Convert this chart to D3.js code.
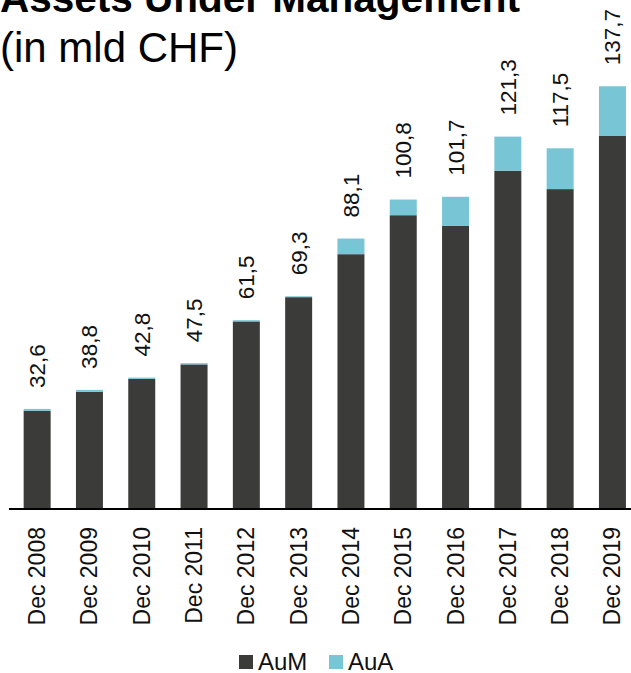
<!DOCTYPE html>
<html>
<head>
<meta charset="utf-8">
<script src="https://cdn.jsdelivr.net/npm/d3@7/dist/d3.min.js"></script>
<style>
  html, body { margin: 0; padding: 0; background: #fff; }
  svg { display: block; font-family: "Liberation Sans", Arial, sans-serif; }
</style>
</head>
<body>
<div id="chart"></div>
<script>
const categories = ["Dec 2008","Dec 2009","Dec 2010","Dec 2011","Dec 2012","Dec 2013","Dec 2014","Dec 2015","Dec 2016","Dec 2017","Dec 2018","Dec 2019"];
const totals = [32.6, 38.8, 42.8, 47.5, 61.5, 69.3, 88.1, 100.8, 101.7, 121.3, 117.5, 137.7];
const totalLabels = ["32,6","38,8","42,8","47,5","61,5","69,3","88,1","100,8","101,7","121,3","117,5","137,7"];
const aua = [0.6, 0.6, 0.4, 0.4, 0.4, 0.3, 5.1, 5.1, 9.5, 11.1, 13.3, 16.2];
const aum = totals.map((t, i) => +(t - aua[i]).toFixed(1));
const seriesNames = ["AuM", "AuA"];
const colors = ["#3b3c39", "#78c5d5"];

const W = 631, H = 673;
const svg = d3.select("#chart").append("svg").attr("width", W).attr("height", H);

const baseY = 509;
const x = d3.scaleBand().domain(categories).range([11, 638.6]).paddingInner(0.484).paddingOuter(0.242);
const y = d3.scaleLinear().domain([0, 140]).range([baseY, baseY - 140 * 3.07]);

const rows = categories.map((c, i) => ({ cat: c, AuM: aum[i], AuA: aua[i] }));
const stack = d3.stack().keys(seriesNames)(rows);

svg.append("g").selectAll("g").data(stack).join("g")
  .attr("fill", (d, i) => colors[i])
  .selectAll("rect").data(d => d).join("rect")
  .attr("x", d => x(d.data.cat))
  .attr("width", x.bandwidth())
  .attr("y", d => y(d[1]))
  .attr("height", d => y(d[0]) - y(d[1]));

// value labels
svg.append("g").selectAll("text").data(categories).join("text")
  .attr("transform", (c, i) => `translate(${x(c) + x.bandwidth() / 2 + 8},${y(totals[i]) - 21}) rotate(-90)`)
  .attr("text-anchor", "start")
  .attr("font-size", 22.5)
  .attr("fill", "#111")
  .text((c, i) => totalLabels[i]);

// x axis
const axis = svg.append("g").attr("transform", `translate(0,${baseY})`)
  .call(d3.axisBottom(x).tickSize(0).tickPadding(0));
axis.select(".domain").remove();
axis.selectAll("text")
  .attr("font-size", 23)
  .attr("font-family", "Liberation Sans, Arial, sans-serif")
  .attr("fill", "#111")
  .attr("text-anchor", "end")
  .attr("dy", null)
  .attr("y", 0)
  .attr("x", 0)
  .attr("transform", "translate(8,18) rotate(-90)");
svg.append("line").attr("x1", 9).attr("x2", W).attr("y1", baseY).attr("y2", baseY)
  .attr("stroke", "#000").attr("stroke-width", 2);

// titles
svg.append("text").attr("x", 0).attr("y", 12).attr("font-size", 40.5).attr("font-weight", "bold")
  .attr("fill", "#000").text("Assets Under Management");
svg.append("text").attr("x", 0).attr("y", 62).attr("font-size", 42)
  .attr("fill", "#000").text("(in mld CHF)");

// legend
const legendX = [239, 329];
const leg = svg.append("g").selectAll("g").data(seriesNames).join("g")
  .attr("transform", (d, i) => `translate(${legendX[i]},655)`);
leg.append("rect").attr("width", 14).attr("height", 14).attr("fill", (d, i) => colors[i]);
leg.append("text").attr("x", 19).attr("y", 14.5).attr("font-size", 24).attr("fill", "#111").text(d => d);
</script>
</body>
</html>
